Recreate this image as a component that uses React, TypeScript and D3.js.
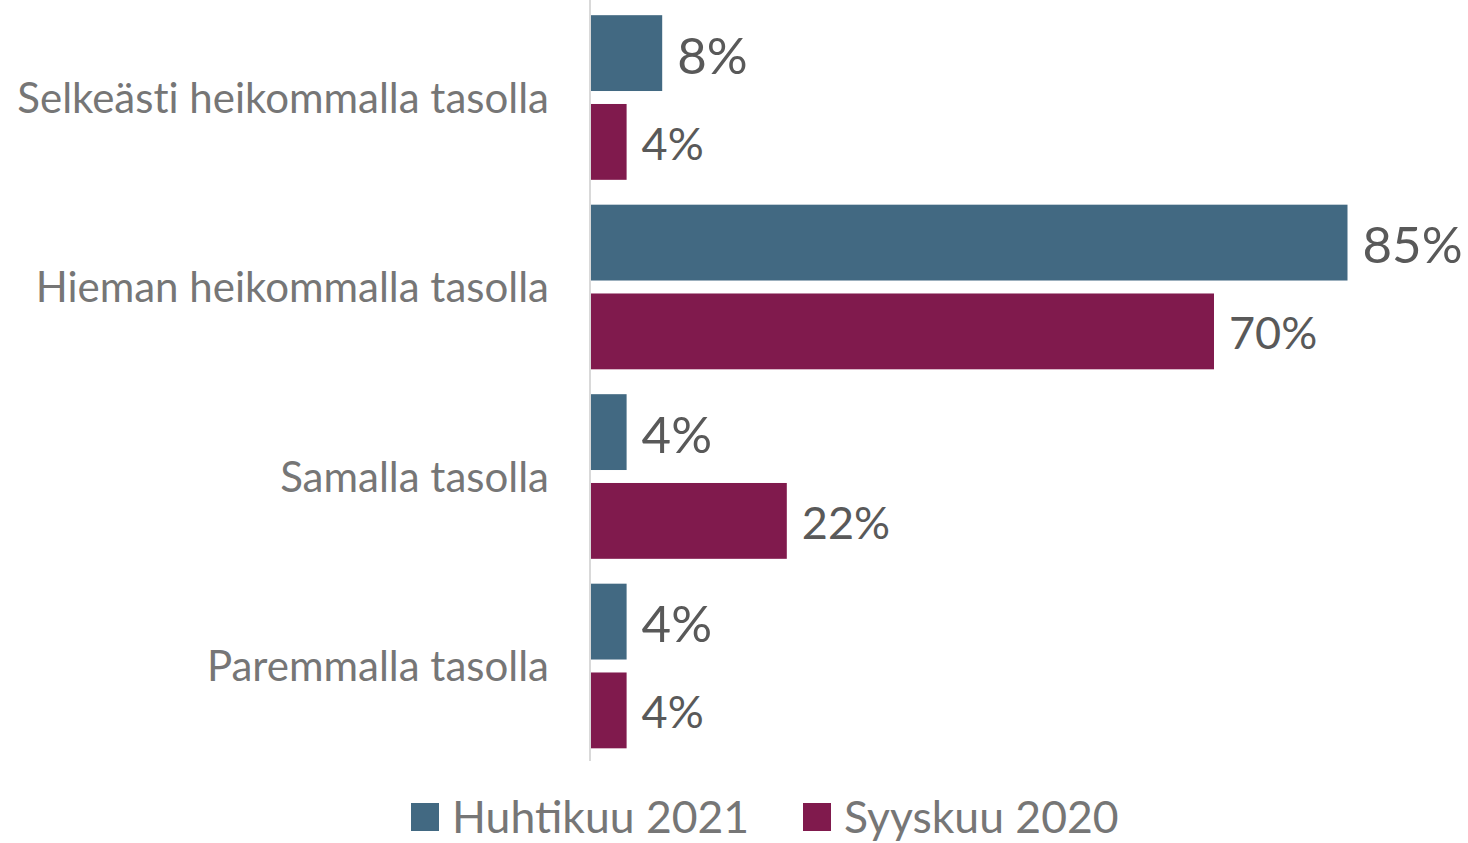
import React from "react";
import * as d3 from "d3";

const categories = [
  "Selkeästi heikommalla tasolla",
  "Hieman heikommalla tasolla",
  "Samalla tasolla",
  "Paremmalla tasolla",
];
const seriesNames = ["Huhtikuu 2021", "Syyskuu 2020"];
const huhtikuu2021 = [8, 85, 4, 4];
const syyskuu2020 = [4, 70, 22, 4];
const colors = ["#426982", "#801A4D"];

const W = 1468;
const H = 843;
const FONT = "Lato, 'Open Sans', sans-serif";

export default function App() {
  const x = d3.scaleLinear().domain([0, 100]).range([591, 591 + 890]);
  const y = d3.scaleBand().domain(categories).range([2.75, 760.75]).paddingInner(0).paddingOuter(0);
  const inner = d3
    .scaleBand()
    .domain(seriesNames)
    .range([0, y.bandwidth()])
    .paddingInner(0.146)
    .paddingOuter(0.14);
  const series = [huhtikuu2021, syyskuu2020];
  const labelSizes = [51, 45];

  return (
    <svg width={W} height={H} style={{ position: "absolute", left: 0, top: 0, background: "#fff" }}>
      {categories.map((c) => (
        <text
          key={c}
          x={549}
          y={(y(c) ?? 0) + y.bandwidth() / 2 - 1}
          textAnchor="end"
          dominantBaseline="central"
          fontFamily={FONT}
          fontSize={42}
          fill="#767676"
          style={{ fontVariantLigatures: "none" }}
        >
          {c}
        </text>
      ))}
      {series.map((vals, si) =>
        categories.map((c, ci) => {
          const by = (y(c) ?? 0) + (inner(seriesNames[si]) ?? 0);
          const bw = x(vals[ci]) - x(0);
          return (
            <g key={c + si}>
              <rect x={x(0)} y={by} width={bw} height={inner.bandwidth()} fill={colors[si]} />
              <text
                x={x(vals[ci]) + 15}
                y={by + inner.bandwidth() / 2 + 1}
                dominantBaseline="central"
                fontFamily={FONT}
                fontSize={labelSizes[si]}
                fill="#595959"
              >
                {vals[ci]}%
              </text>
            </g>
          );
        })
      )}
      <line x1={590} x2={590} y1={0} y2={761} stroke="#d9d9d9" strokeWidth={2} />
      {seriesNames.map((s, i) => {
        const lx = [411, 803][i];
        return (
          <g key={s}>
            <rect x={lx} y={803} width={28} height={28} fill={colors[i]} />
            <text
              x={lx + 41}
              y={815}
              dominantBaseline="central"
              fontFamily={FONT}
              fontSize={44.5}
              fill="#767676"
            >
              {s}
            </text>
          </g>
        );
      })}
    </svg>
  );
}
